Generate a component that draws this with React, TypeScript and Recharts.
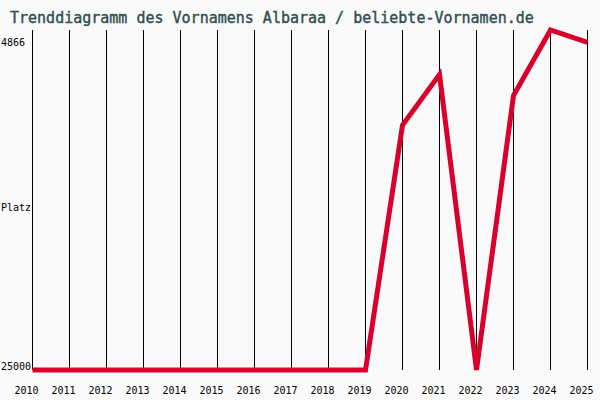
import React from "react";
import {
  LineChart,
  Line,
  XAxis,
  YAxis,
  CartesianGrid,
  Label,
} from "recharts";

const years = [
  2010, 2011, 2012, 2013, 2014, 2015, 2016, 2017, 2018, 2019, 2020, 2021,
  2022, 2023, 2024, 2025,
];
const ranks = [
  25000, 25000, 25000, 25000, 25000, 25000, 25000, 25000, 25000, 25000, 10500,
  7500, 25000, 8750, 4866, 5600,
];
const rankTicks = [4866, 25000];
const axisTitle = "Platz";
const title = "Trenddiagramm des Vornamens Albaraa / beliebte-Vornamen.de";

const data = years.map((year, i) => ({ year, rank: ranks[i] }));

const LABEL_FONT = "'DejaVu Sans Mono', monospace";

function YearTick({ x, y, payload }: any) {
  return (
    <text
      x={x - 6}
      y={y + 16}
      textAnchor="middle"
      fill="#000"
      fontSize={10}
      fontFamily={LABEL_FONT}
    >
      {payload.value}
    </text>
  );
}

function RankTick({ y, payload }: any) {
  // top label sits below its line, bottom label sits on it
  const dy = payload.value === 4866 ? 16 : 0;
  return (
    <text
      x={1}
      y={y + dy}
      textAnchor="start"
      fill="#000"
      fontSize={10}
      fontFamily={LABEL_FONT}
    >
      {payload.value}
    </text>
  );
}

function PlatzLabel({ viewBox }: any) {
  const midY = viewBox.y + viewBox.height / 2;
  return (
    <text
      x={1}
      y={midY + 11}
      textAnchor="start"
      fill="#000"
      fontSize={10}
      fontFamily={LABEL_FONT}
    >
      {axisTitle}
    </text>
  );
}

export default function App() {
  return (
    <div
      style={{
        position: "absolute",
        left: 0,
        top: 0,
        width: 600,
        height: 400,
        background: "#fafafa",
      }}
    >
      <svg
        width={600}
        height={30}
        style={{ position: "absolute", left: 0, top: 0 }}
      >
        <text
          x={10}
          y={23}
          fill="#2f4f4f"
          fontSize={15}
          fontFamily={LABEL_FONT}
          stroke="#2f4f4f"
          strokeWidth={0.4}
        >
          {title}
        </text>
      </svg>
      <LineChart
        width={600}
        height={400}
        data={data}
        margin={{ top: 30, right: 12.5, bottom: 0, left: 0 }}
      >
        <CartesianGrid horizontal={false} stroke="#000" strokeWidth={1} />
        <XAxis
          dataKey="year"
          type="number"
          domain={[2010, 2025]}
          ticks={years}
          height={30}
          axisLine={false}
          tickLine={false}
          tick={<YearTick />}
          interval={0}
        />
        <YAxis
          type="number"
          domain={[4866, 25000]}
          reversed
          ticks={rankTicks}
          width={32.5}
          axisLine={false}
          tickLine={false}
          tick={<RankTick />}
          interval={0}
        >
          <Label content={<PlatzLabel />} />
        </YAxis>
        <Line
          type="linear"
          dataKey="rank"
          stroke="#d9002b"
          strokeWidth={5}
          dot={false}
          isAnimationActive={false}
        />
      </LineChart>
    </div>
  );
}
